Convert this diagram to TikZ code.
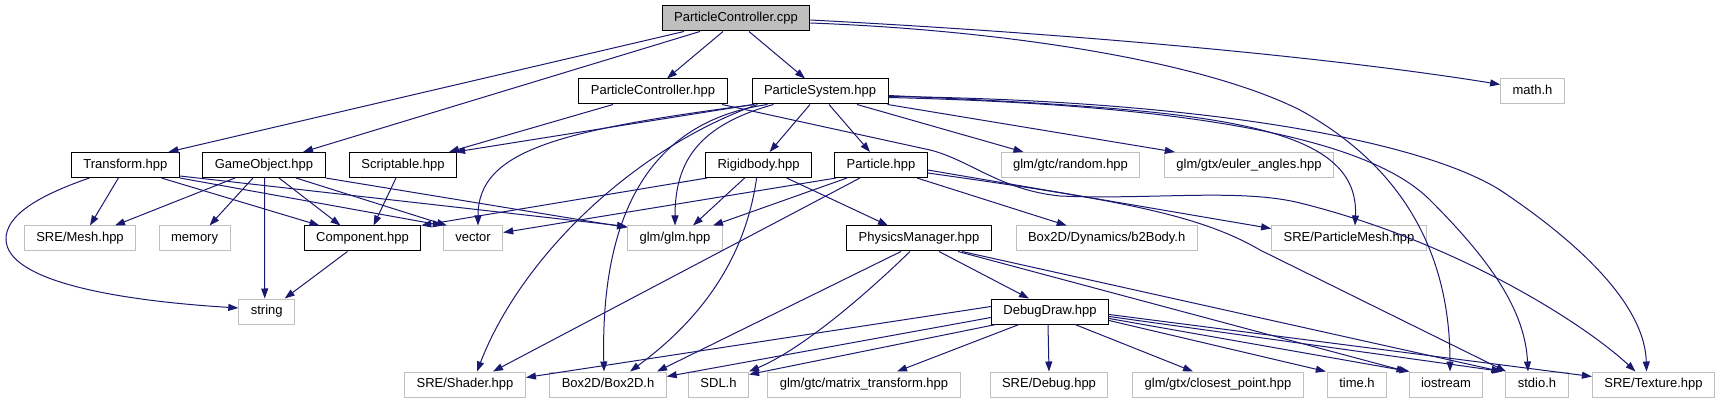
\documentclass[tikz,border=0pt]{standalone}
\usepackage{fontspec}
\setmainfont{Liberation Sans}
\usetikzlibrary{arrows.meta}
\definecolor{depblue}{RGB}{25,25,112}
\definecolor{extgray}{RGB}{191,191,191}
\tikzset{
  file/.style={rectangle,line width=1pt,minimum height=25pt,inner xsep=12pt,inner ysep=0pt,
    font=\fontsize{13}{15}\selectfont,text height=9.4pt,text depth=2.6pt},
  docfile/.style={file,draw=black},
  extfile/.style={file,draw=extgray},
  dep/.style={->,draw=depblue,line width=1pt}
}
\begin{document}
\begin{tikzpicture}[line cap=butt,line join=miter,>={Triangle[length=10pt,width=7pt]},x=1pt,y=-1pt]
            \useasboundingbox (0,0) rectangle (1720,403);
            % files
            \node[docfile,fill=extgray] (pccpp) at (736,18.5) {ParticleController.cpp};
            \node[extfile] (mathh) at (1532.5,91.5) {math.h};
            \node[docfile] (pchpp) at (653,91.5) {ParticleController.hpp};
            \node[docfile] (pshpp) at (820,91.5) {ParticleSystem.hpp};
            \node[docfile] (transf) at (125.4,165) {Transform.hpp};
            \node[docfile] (gameobj) at (264,165) {GameObject.hpp};
            \node[docfile] (script) at (403,165) {Scriptable.hpp};
            \node[docfile] (rigid) at (758.6,165) {Rigidbody.hpp};
            \node[docfile] (particle) at (881,165) {Particle.hpp};
            \node[extfile] (glmrand) at (1070.5,165) {glm/gtc/random.hpp};
            \node[extfile] (glmeuler) at (1249,165) {glm/gtx/euler\_angles.hpp};
            \node[extfile] (sremesh) at (80,238.5) {SRE/Mesh.hpp};
            \node[extfile] (memory) at (194.6,238.5) {memory};
            \node[docfile] (comp) at (362.5,238.5) {Component.hpp};
            \node[extfile] (vector) at (473,238.5) {vector};
            \node[extfile] (glmglm) at (675,238.5) {glm/glm.hpp};
            \node[docfile] (physmgr) at (919,238.5) {PhysicsManager.hpp};
            \node[extfile] (b2body) at (1106.7,238.5) {Box2D/Dynamics/b2Body.h};
            \node[extfile] (srepmesh) at (1349,238.5) {SRE/ParticleMesh.hpp};
            \node[extfile] (string) at (266.7,311.5) {string};
            \node[docfile] (debugdraw) at (1050,311.5) {DebugDraw.hpp};
            \node[extfile] (sreshader) at (465,384.5) {SRE/Shader.hpp};
            \node[extfile] (box2d) at (608,384.5) {Box2D/Box2D.h};
            \node[extfile] (sdl) at (718.5,384.5) {SDL.h};
            \node[extfile] (glmmatrix) at (864,384.5) {glm/gtc/matrix\_transform.hpp};
            \node[extfile] (sredebug) at (1049,384.5) {SRE/Debug.hpp};
            \node[extfile] (glmclosest) at (1218,384.5) {glm/gtx/closest\_point.hpp};
            \node[extfile] (timeh) at (1357,384.5) {time.h};
            \node[extfile] (iostream) at (1446,384.5) {iostream};
            \node[extfile] (stdioh) at (1537,384.5) {stdio.h};
            \node[extfile] (sretex) at (1653.5,384.5) {SRE/Texture.hpp};
            % ParticleController.cpp
            \draw[dep] ([xshift=-52]pccpp.south) -- ([xshift=43]transf.north);
            \draw[dep] ([xshift=-36]pccpp.south) -- ([xshift=39]gameobj.north);
            \draw[dep] ([xshift=-13]pccpp.south) -- ([xshift=14]pchpp.north);
            \draw[dep] ([xshift=13]pccpp.south) -- ([xshift=-15]pshpp.north);
            \draw[dep] ([yshift=-1.5]pccpp.east) .. controls (1100,35) and (1350,60) .. ([yshift=7]mathh.west);
            \draw[dep] ([yshift=-4.5]pccpp.east) .. controls (1000,30) and (1200,60) .. (1300,110)
                .. controls (1400,165) and (1450,250) .. ([xshift=4]iostream.north);
            % ParticleController.hpp
            \draw[dep] ([xshift=-40]pchpp.south) -- ([xshift=46]script.north);
            \draw[dep] ([xshift=69]pchpp.south) -- (930,150) .. controls (970,160) and (1000,190) .. (1060,196)
                .. controls (1150,200) and (1240,188) .. (1300,203)
                .. controls (1450,240) and (1580,320) .. ([xshift=-18]sretex.north);
            % ParticleSystem.hpp
            \draw[dep] ([xshift=2]pshpp.south west) -- ([xshift=-2]script.north east);
            \draw[dep] ([xshift=3]pshpp.south west) .. controls (560,130) and (478,150) .. ([xshift=5]vector.north);
            \draw[dep] ([xshift=6]pshpp.south west) .. controls (630,150) and (520,260) .. ([xshift=12]sreshader.north);
            \draw[dep] ([xshift=16]pshpp.south west) .. controls (660,120) and (600,200) .. ([xshift=-4]box2d.north);
            \draw[dep] ([xshift=22]pshpp.south west) .. controls (700,125) and (675,160) .. (glmglm.north);
            \draw[dep] ([xshift=-10]pshpp.south) -- ([xshift=11]rigid.north);
            \draw[dep] ([xshift=9]pshpp.south) -- ([xshift=-11]particle.north);
            \draw[dep] ([xshift=37]pshpp.south) -- ([xshift=-47]glmrand.north);
            \draw[dep] ([xshift=-1]pshpp.south east) -- ([xshift=11]glmeuler.north west);
            \draw[dep] ([yshift=-4]pshpp.east) .. controls (1200,110) and (1360,120) .. ([xshift=6]srepmesh.north);
            \draw[dep] ([yshift=-6]pshpp.east) .. controls (1200,105) and (1370,140) .. (1430,200)
                .. controls (1490,260) and (1525,310) .. ([xshift=-9]stdioh.north);
            \draw[dep] ([yshift=-5]pshpp.east) .. controls (1200,100) and (1420,140) .. (1500,190)
                .. controls (1590,250) and (1645,310) .. ([xshift=-7]sretex.north);
            % Transform.hpp
            \draw[dep] ([xshift=-36]transf.south) .. controls (40,195) and (5,215) .. (6,240)
                .. controls (8,280) and (110,300) .. ([yshift=3.5]string.west);
            \draw[dep] ([xshift=-7]transf.south) -- ([xshift=10]sremesh.north);
            \draw[dep] ([xshift=36]transf.south) -- ([xshift=-43]comp.north);
            \draw[dep] (transf.south east) -- (vector.north west);
            \draw[dep] ([yshift=2]transf.south east) -- ([yshift=-1]glmglm.north west);
            % GameObject.hpp
            \draw[dep] ([xshift=-29]gameobj.south) -- ([xshift=35]sremesh.north);
            \draw[dep] ([xshift=-11]gameobj.south) -- ([xshift=15]memory.north);
            \draw[dep] ([xshift=0.5]gameobj.south) -- ([xshift=-2]string.north);
            \draw[dep] ([xshift=15]gameobj.south) -- ([xshift=-22]comp.north);
            \draw[dep] ([xshift=32]gameobj.south) -- ([xshift=4]vector.north west);
            \draw[dep] (gameobj.south east) -- ([yshift=-2]glmglm.north west);
            % Scriptable.hpp, Component.hpp
            \draw[dep] ([xshift=-7]script.south) -- ([xshift=11]comp.north);
            \draw[dep] ([xshift=-15]comp.south) -- ([xshift=18]string.north);
            % Rigidbody.hpp
            \draw[dep] ([xshift=2]rigid.south west) -- (comp.north east);
            \draw[dep] ([xshift=-14]rigid.south) -- ([xshift=18]glmglm.north);
            \draw[dep] ([xshift=-2]rigid.south) .. controls (745,260) and (700,320) .. ([xshift=22]box2d.north);
            \draw[dep] ([xshift=28]rigid.south) -- ([xshift=-31]physmgr.north);
            % Particle.hpp
            \draw[dep] ([xshift=2]particle.south west) -- ([yshift=6]vector.east);
            \draw[dep] ([xshift=-34]particle.south) -- ([xshift=38]glmglm.north);
            \draw[dep] ([xshift=-21]particle.south) -- ([xshift=28]sreshader.north);
            \draw[dep] ([xshift=36]particle.south) -- ([xshift=-40]b2body.north);
            \draw[dep] ([yshift=-5]particle.east) -- ([yshift=10]srepmesh.west);
            \draw[dep] ([yshift=-8]particle.east) .. controls (1120,200) and (1200,215) .. (1260,250)
                -- ([xshift=-31]stdioh.north);
            % PhysicsManager.hpp
            \draw[dep] ([xshift=-18]physmgr.south) -- ([xshift=49]box2d.north);
            \draw[dep] ([xshift=-9]physmgr.south) .. controls (860,300) and (800,350) .. (sdl.north east);
            \draw[dep] ([xshift=20]physmgr.south) -- ([xshift=-21]debugdraw.north);
            \draw[dep] ([xshift=39]physmgr.south) -- ([xshift=-2]iostream.north west);
            \draw[dep] ([xshift=43]physmgr.south) -- ([xshift=-4]stdioh.north west);
            % DebugDraw.hpp
            \draw[dep] ([yshift=5]debugdraw.west) -- ([yshift=7]sreshader.east);
            \draw[dep] ([yshift=-6]debugdraw.west) -- ([yshift=8]box2d.east);
            \draw[dep] ([xshift=5]debugdraw.south west) -- ([yshift=-3]sdl.north east);
            \draw[dep] ([xshift=-31]debugdraw.south) -- ([xshift=33]glmmatrix.north);
            \draw[dep] ([xshift=-2]debugdraw.south) -- (sredebug.north);
            \draw[dep] ([xshift=25]debugdraw.south) -- ([xshift=-25]glmclosest.north);
            \draw[dep] ([yshift=-9]debugdraw.east) -- ([xshift=-1]timeh.north west);
            \draw[dep] ([yshift=-7]debugdraw.east) -- ([xshift=1]iostream.north west);
            \draw[dep] ([yshift=-5]debugdraw.east) -- ([xshift=-3]stdioh.north west);
            \draw[dep] ([yshift=-3]debugdraw.east) -- ([yshift=-5]sretex.north west);
\end{tikzpicture}
\end{document}
